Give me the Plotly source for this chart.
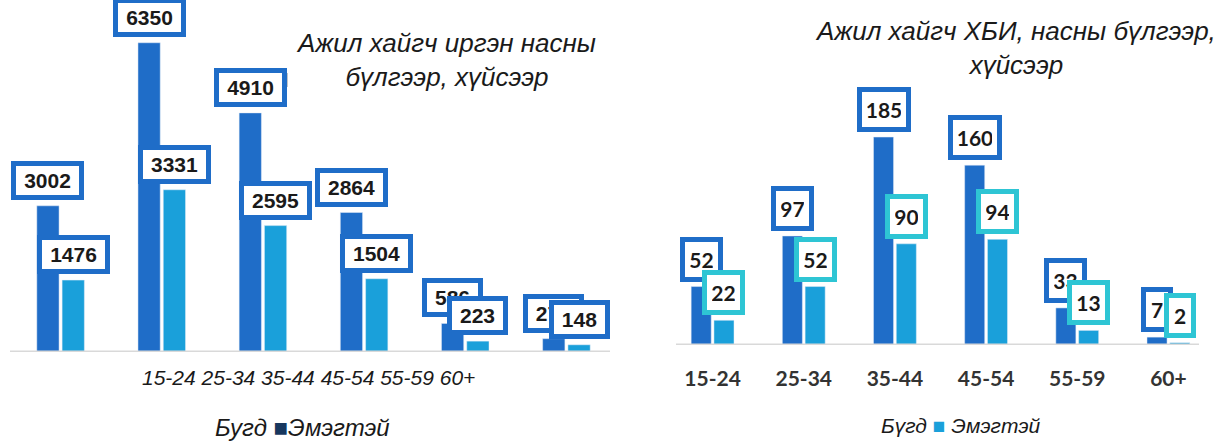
import plotly.graph_objects as go

# ---------------- data ----------------
categories = ["15-24", "25-34", "35-44", "45-54", "55-59", "60+"]
left_total = [3002, 6350, 4910, 2864, 586, 274]
left_female = [1476, 3331, 2595, 1504, 223, 148]
right_total = [52, 97, 185, 160, 33, 7]
right_female = [22, 52, 90, 94, 13, 2]
left_title = ["Ажил хайгч иргэн насны", "бүлгээр, хүйсээр"]
right_title = ["Ажил хайгч ХБИ, насны бүлгээр,", "хүйсээр"]
left_legend = ["Бугд", "Эмэгтэй"]
right_legend = ["Бүгд", "Эмэгтэй"]

# ---------------- style ----------------
W, H = 1220, 442
DARK = "#1F6DC8"
LIGHT = "#1AA0DA"
CYAN = "#2EC5D4"
BASE = "#D9D9D9"
TXT = "#1a1a1a"
BARGAP = 0.5
OFF = (1 - BARGAP) / 4  # half slot width in category units

def px_x(p):
    return p / W

def px_y(p):
    return (H - p) / H

fig = go.Figure()

fig.add_trace(go.Bar(x=categories, y=left_total, marker_color=DARK, xaxis="x", yaxis="y",
                     name=left_legend[0], hoverinfo="skip"))
fig.add_trace(go.Bar(x=categories, y=left_female, marker_color=LIGHT, xaxis="x", yaxis="y",
                     name=left_legend[1], hoverinfo="skip"))
fig.add_trace(go.Bar(x=categories, y=right_total, marker_color=DARK, xaxis="x2", yaxis="y2",
                     name=right_legend[0], hoverinfo="skip"))
fig.add_trace(go.Bar(x=categories, y=right_female, marker_color=LIGHT, xaxis="x2", yaxis="y2",
                     name=right_legend[1], hoverinfo="skip"))

annotations = []

# left value labels
def left_label(i, v, shift, col):
    n = len(str(v))
    return dict(x=i + shift, y=v, xref="x", yref="y", text=f"<b>{v}</b>", showarrow=False,
                yanchor="bottom", yshift=6, bgcolor="white", bordercolor=col, borderwidth=5,
                borderpad=3, width=12 * n + 9,
                font=dict(family="Liberation Sans", size=21, color=TXT))

for i, v in enumerate(left_total):
    annotations.append(left_label(i, v, -OFF, DARK))
for i, v in enumerate(left_female):
    annotations.append(left_label(i, v, OFF, DARK))

# right value labels
def right_label(i, v, shift, col):
    n = len(str(v))
    return dict(x=i + shift, y=v, xref="x2", yref="y2", text=f"<b>{v}</b>", showarrow=False,
                yanchor="bottom", yshift=5, bgcolor="white", bordercolor=col, borderwidth=5,
                borderpad=5, width=11 * n + 1,
                font=dict(family="Lato", size=21, color=TXT))

for i, v in enumerate(right_total):
    annotations.append(right_label(i, v, -OFF, DARK))
for i, v in enumerate(right_female):
    annotations.append(right_label(i, v, OFF, CYAN))

# left category text (single centered line)
annotations.append(dict(x=px_x(308), y=px_y(377), xref="paper", yref="paper",
                        text="<i>" + " ".join(categories) + "</i>", showarrow=False,
                        xanchor="center", yanchor="middle",
                        font=dict(family="Liberation Sans", size=21, color=TXT)))

# titles
annotations.append(dict(x=px_x(446), y=px_y(60), xref="paper", yref="paper",
                        text="<i>" + "<br>".join(left_title) + "</i>", showarrow=False,
                        xanchor="center", yanchor="middle", align="center",
                        font=dict(family="Liberation Sans", size=26, color=TXT)))
annotations.append(dict(x=px_x(1015), y=px_y(48), xref="paper", yref="paper",
                        text="<i>" + "<br>".join(right_title) + "</i>", showarrow=False,
                        xanchor="center", yanchor="middle", align="center",
                        font=dict(family="Liberation Sans", size=26, color=TXT)))

# legends
annotations.append(dict(x=px_x(302), y=px_y(427), xref="paper", yref="paper",
                        text=f"<i>{left_legend[0]} </i><span style='color:#17375E'>■</span><i>{left_legend[1]}</i>",
                        showarrow=False, xanchor="center", yanchor="middle",
                        font=dict(family="Liberation Sans", size=24, color=TXT)))
annotations.append(dict(x=px_x(960), y=px_y(425), xref="paper", yref="paper",
                        text=f"<i>{right_legend[0]} </i><span style='color:{LIGHT}'>■</span><i> {right_legend[1]}</i>",
                        showarrow=False, xanchor="center", yanchor="middle",
                        font=dict(family="Liberation Sans", size=21, color=TXT)))

shapes = [
    dict(type="line", xref="paper", yref="y", x0=px_x(10), x1=px_x(610), y0=0, y1=0,
         line=dict(color=BASE, width=3)),
    dict(type="line", xref="paper", yref="y2", x0=px_x(676), x1=px_x(1199), y0=0, y1=0,
         line=dict(color=BASE, width=3)),
    # small stray tick mark visible in the reference next to the 4910 label
    dict(type="line", xref="paper", yref="paper", x0=px_x(287), x1=px_x(287),
         y0=px_y(73), y1=px_y(87), line=dict(color="#B0B0B0", width=1.5)),
]

fig.update_layout(
    width=W, height=H, margin=dict(l=0, r=0, t=0, b=0),
    paper_bgcolor="white", plot_bgcolor="white",
    barmode="group", bargap=BARGAP, bargroupgap=0.12,
    showlegend=False,
    xaxis=dict(domain=[px_x(10), px_x(617)], showticklabels=False, showgrid=False,
               zeroline=False, showline=False, ticks="", anchor="y"),
    yaxis=dict(domain=[px_y(352), 1], range=[0, 352 / 0.0487], visible=False, anchor="x"),
    xaxis2=dict(domain=[px_x(667), px_x(1214)], showgrid=False, zeroline=False, showline=False,
                ticks="", anchor="y2", ticklabelstandoff=19,
                tickfont=dict(family="Lato", size=21, color="#333333", weight="bold")),
    yaxis2=dict(domain=[px_y(345), 1], range=[0, 345 / 1.124], visible=False, anchor="x2"),
    annotations=annotations,
    shapes=shapes,
)

fig.write_html("out.html", config={"displayModeBar": False},
               post_script="document.body.style.margin='0';document.body.style.overflow='hidden';")
